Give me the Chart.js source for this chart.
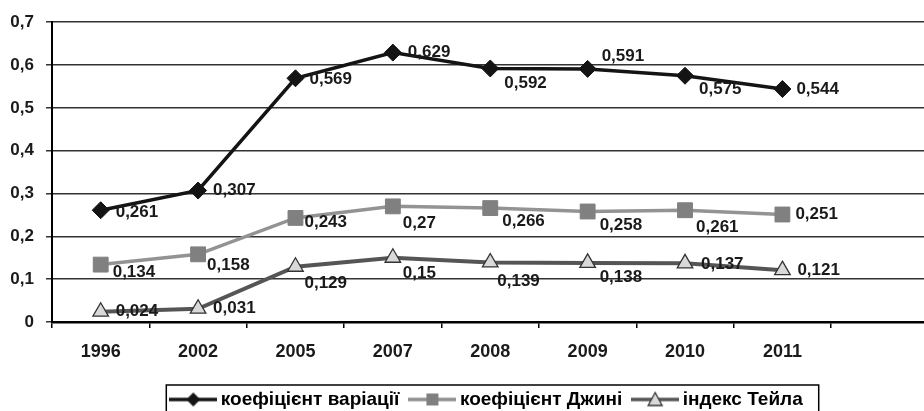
<!DOCTYPE html>
<html>
<head>
<meta charset="utf-8">
<script src="https://cdn.jsdelivr.net/npm/chart.js@4.4.1/dist/chart.umd.min.js"></script>
<style>
    html, body { margin: 0; padding: 0; background: #fff; overflow: hidden; }
    #chart { display: block; }
</style>
</head>
<body>
<canvas id="chart" width="940" height="430"></canvas>
<script>
// years, last slot stays empty like in the original sheet
const years = ['1996', '2002', '2005', '2007', '2008', '2009', '2010', '2011', ''];

const variation = [0.261, 0.307, 0.569, 0.629, 0.592, 0.591, 0.575, 0.544];
const gini = [0.134, 0.158, 0.243, 0.27, 0.266, 0.258, 0.261, 0.251];
const theil = [0.024, 0.031, 0.129, 0.15, 0.139, 0.138, 0.137, 0.121];

const seriesNames = ['коефіцієнт варіації', 'коефіцієнт Джині', 'індекс Тейла'];
const yTicks = [0, 0.1, 0.2, 0.3, 0.4, 0.5, 0.6, 0.7];

// label shifts next to each point (px)
const labelDx = [
    [15, 15, 14, 15, 14, 14, 14, 14],
    [12, 9, 9, 10, 12, 12, 11, 13],
    [15, 15, 9, 10, 7, 12, 16, 15]
];
const labelDy = [
    [2, 0, 1, 0, 15, -13, 14, 0],
    [8, 11, 4, 17, 13, 14, 17, 0],
    [0, 0, 17, 16, 19, 14, 1, 0]
];

const FONT = '"Liberation Sans", Arial, sans-serif';
const fmt = v => v === 0 ? '0' : String(v).replace('.', ',');

function makeIcon(lineColor, lineWidth, draw) {
    const c = document.createElement('canvas');
    c.width = 48; c.height = 18;
    const ctx = c.getContext('2d');
    ctx.strokeStyle = lineColor;
    ctx.lineWidth = lineWidth;
    ctx.beginPath();
    ctx.moveTo(0, 9);
    ctx.lineTo(48, 9);
    ctx.stroke();
    draw(ctx);
    return c;
}

const legendIcons = [
    makeIcon('#141414', 3.5, ctx => {
        ctx.fillStyle = '#141414';
        ctx.beginPath();
        ctx.moveTo(24, 2); ctx.lineTo(31, 9); ctx.lineTo(24, 16); ctx.lineTo(17, 9);
        ctx.closePath();
        ctx.fill();
    }),
    makeIcon('#8f8f8f', 3.5, ctx => {
        ctx.fillStyle = '#808080';
        ctx.fillRect(18, 3, 12, 12);
    }),
    makeIcon('#555555', 3.5, ctx => {
        ctx.fillStyle = '#d9d9d9';
        ctx.strokeStyle = '#333';
        ctx.lineWidth = 1.3;
        ctx.beginPath();
        ctx.moveTo(24, 2); ctx.lineTo(31, 15); ctx.lineTo(17, 15);
        ctx.closePath();
        ctx.fill();
        ctx.stroke();
    })
];

const pointLabels = {
    id: 'pointLabels',
    afterDatasetsDraw(chart) {
        const ctx = chart.ctx;
        ctx.save();
        ctx.font = 'bold 17px ' + FONT;
        ctx.fillStyle = '#1a1a1a';
        ctx.textAlign = 'left';
        ctx.textBaseline = 'middle';
        chart.data.datasets.forEach((ds, i) => {
            chart.getDatasetMeta(i).data.forEach((pt, j) => {
                ctx.fillText(fmt(ds.data[j]), pt.x + labelDx[i][j], pt.y + labelDy[i][j]);
            });
        });
        ctx.restore();
    }
};

// legend sits a bit right of the canvas centre in the original
const legendShift = {
    id: 'legendShift',
    afterLayout(chart) {
        chart.legend.left += 22;
        chart.legend.right += 22;
    }
};

const legendFrame = {
    id: 'legendFrame',
    afterDraw(chart) {
        const boxes = chart.legend.legendHitBoxes;
        if (!boxes || !boxes.length) return;
        const first = boxes[0], last = boxes[boxes.length - 1];
        const ctx = chart.ctx;
        ctx.save();
        ctx.strokeStyle = '#000';
        ctx.lineWidth = 1.5;
        const left = first.left - 9;
        const right = last.left + last.width + 16;
        ctx.strokeRect(left, 385, right - left, 60);
        ctx.restore();
    }
};

new Chart(document.getElementById('chart'), {
    type: 'line',
    data: {
        labels: years,
        datasets: [{
            label: seriesNames[0],
            data: variation,
            borderColor: '#141414',
            backgroundColor: '#141414',
            borderWidth: 3.5,
            pointStyle: 'rectRot',
            pointRadius: 8.5,
            pointBorderWidth: 1
        }, {
            label: seriesNames[1],
            data: gini,
            borderColor: '#939393',
            backgroundColor: '#808080',
            pointBorderColor: '#808080',
            borderWidth: 3.5,
            pointStyle: 'rect',
            pointRadius: 10.5,
            pointBorderWidth: 1
        }, {
            label: seriesNames[2],
            data: theil,
            borderColor: '#555555',
            backgroundColor: '#d9d9d9',
            pointBorderColor: '#333333',
            borderWidth: 4,
            pointStyle: 'triangle',
            pointRadius: 9,
            pointBorderWidth: 1.3
        }]
    },
    options: {
        responsive: false,
        animation: false,
        layout: { padding: { left: 0, right: 6, top: 16, bottom: 11 } },
        scales: {
            x: {
                offset: true,
                grid: { drawOnChartArea: false, drawTicks: true, tickLength: 6, offset: true, color: '#000', lineWidth: 1.5 },
                border: { color: '#000', width: 2.5 },
                ticks: { color: '#1a1a1a', padding: 13, font: { family: FONT, size: 18, weight: 'bold' } },
                afterFit(scale) { scale.height = 53; }
            },
            y: {
                min: 0,
                max: 0.7,
                afterBuildTicks(scale) { scale.ticks = yTicks.map(v => ({ value: v })); },
                grid: { color: '#333', lineWidth: 1.5, tickLength: 6 },
                border: { color: '#000', width: 2 },
                ticks: {
                    color: '#1a1a1a',
                    padding: 12,
                    font: { family: FONT, size: 17, weight: 'bold' },
                    callback: v => fmt(Math.round(v * 10) / 10)
                },
                afterFit(scale) { scale.width = 52; }
            }
        },
        plugins: {
            tooltip: { enabled: false },
            legend: {
                position: 'bottom',
                labels: {
                    usePointStyle: true,
                    pointStyleWidth: 36,
                    padding: 15,
                    color: '#000',
                    font: { family: FONT, size: 19, weight: 'bold' },
                    generateLabels(chart) {
                        const items = Chart.defaults.plugins.legend.labels.generateLabels(chart);
                        items.forEach((it, i) => { it.pointStyle = legendIcons[i]; });
                        return items;
                    }
                }
            }
        }
    },
    plugins: [pointLabels, legendShift, legendFrame]
});
</script>
</body>
</html>
